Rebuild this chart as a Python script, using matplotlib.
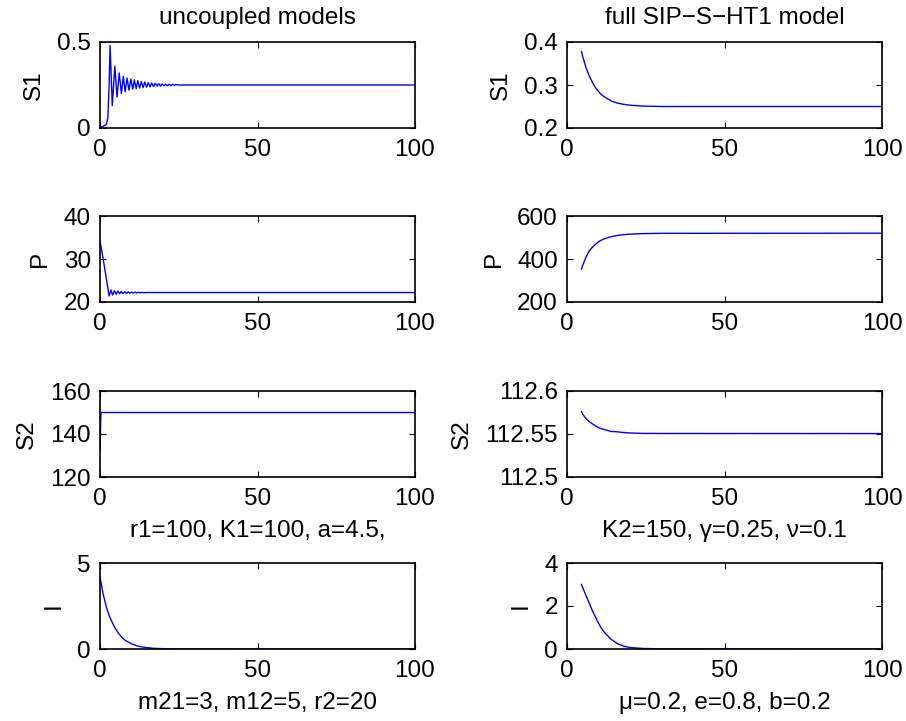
#!/usr/bin/env python3
"""Time courses of the uncoupled models vs. the full SIP-S-HT1 model."""

import matplotlib

matplotlib.use("Agg")
import matplotlib.pyplot as plt


# --- uncoupled models (left column) ---
s1_unc_t = [0, 1.0, 2.0, 2.5, 2.9, 3.2, 3.9, 4.7, 5.4, 6.1, 6.8, 7.4, 8.0, 8.6,
            9.2, 9.8, 10.4, 10.9, 11.5, 12.0, 12.6, 13.1, 13.7, 14.2, 14.8,
            15.3, 15.9, 16.4, 17.0, 17.5, 18.1, 18.6, 19.2, 19.7, 20.3, 20.8,
            21.4, 21.9, 22.5, 23.0, 23.6, 24.1, 25.0, 100]
s1_unc = [0.004, 0.01, 0.02, 0.06, 0.25, 0.48, 0.13, 0.36, 0.18, 0.32, 0.20,
          0.30, 0.21, 0.29, 0.22, 0.285, 0.225, 0.28, 0.228, 0.275, 0.232,
          0.27, 0.235, 0.267, 0.237, 0.264, 0.239, 0.262, 0.241, 0.26, 0.243,
          0.258, 0.244, 0.256, 0.245, 0.255, 0.246, 0.254, 0.247, 0.253,
          0.248, 0.252, 0.25, 0.25]

p_unc_t = [0, 0.5, 1.0, 1.5, 2.0, 2.5, 2.9, 3.45, 4.0, 4.55, 5.1, 5.65, 6.2,
           6.75, 7.3, 7.85, 8.4, 8.95, 9.5, 10.05, 10.6, 11.15, 11.7, 12.25,
           12.8, 13.35, 13.9, 15.0, 100]
p_unc = [34.3, 32.2, 30.0, 27.8, 25.5, 23.2, 21.4, 22.8, 21.6, 22.65, 21.8,
         22.55, 21.9, 22.45, 21.95, 22.4, 22.0, 22.35, 22.05, 22.3, 22.1,
         22.28, 22.12, 22.26, 22.14, 22.24, 22.16, 22.2, 22.2]

s2_unc_t = [0, 0.1, 0.2, 0.3, 0.5, 100]
s2_unc = [132, 138, 145, 149.5, 150, 150]

i_unc_t = [0, 1, 2, 3, 4, 5, 6, 7, 8, 10, 12, 14, 17, 20, 25, 100]
i_unc = [4.2, 3.2, 2.45, 1.9, 1.5, 1.15, 0.88, 0.67, 0.5, 0.3, 0.17, 0.1,
         0.04, 0.02, 0.005, 0.0]

# --- full SIP-S-HT1 model (right column) ---
full_t = [4.6, 5, 6, 7, 8, 9, 10, 11, 12, 14, 16, 18, 20, 24, 30, 100]
s1_full = [0.378, 0.366, 0.341, 0.322, 0.307, 0.294, 0.285, 0.277, 0.272,
           0.263, 0.258, 0.255, 0.253, 0.251, 0.25, 0.25]
p_full = [353, 371, 408, 436, 454, 468, 480, 488.5, 495, 504, 509.5, 513,
          515.5, 518, 519.4, 520]
s2_full = [112.576, 112.573, 112.568, 112.5645, 112.562, 112.5595, 112.5575,
           112.556, 112.555, 112.553, 112.5525, 112.5517, 112.5512,
           112.5507, 112.5506, 112.5505]
i_full = [3.0, 2.85, 2.5, 2.15, 1.8, 1.5, 1.2, 0.95, 0.75, 0.45, 0.25, 0.13,
          0.07, 0.025, 0.008, 0.0]

col_titles = ["uncoupled models", "full SIP\u2212S\u2212HT1 model"]
row_labels = ["S1", "P", "S2", "I"]
x_ticks = [0, 50, 100]
y_ticks_left = [[0, 0.5], [20, 30, 40], [120, 140, 160], [0, 5]]
y_ticks_right = [[0.2, 0.3, 0.4], [200, 400, 600], [112.5, 112.55, 112.6], [0, 2, 4]]
y_tick_text_right = [["0.2", "0.3", "0.4"], ["200", "400", "600"],
                     ["112.5", "112.55", "112.6"], ["0", "2", "4"]]
notes_left = {2: "r1=100, K1=100, a=4.5,", 3: "m21=3, m12=5, r2=20"}
notes_right = {2: "K2=150, \u03b3=0.25, \u03bd=0.1", 3: "\u03bc=0.2, e=0.8, b=0.2"}


def style(ax, yticks, ylabel):
    ax.set_xlim(0, 100)
    ax.set_ylim(yticks[0], yticks[-1])
    ax.set_xticks(x_ticks)
    ax.set_yticks(yticks)
    ax.tick_params(direction="in", length=4, width=0.8, top=True, right=True)
    ax.tick_params(axis="x", pad=8)
    ax.tick_params(axis="y", pad=6.5)
    for spine in ax.spines.values():
        spine.set_linewidth(1.2)
    ax.set_ylabel(ylabel, labelpad=9)


def main() -> None:
    matplotlib.rcParams.update(
        {
            "font.family": ["Liberation Sans", "DejaVu Sans"],
            "font.size": 17.5,
            "axes.labelsize": 17.5,
            "xtick.labelsize": 17.5,
            "ytick.labelsize": 17.5,
            "axes.titlesize": 17.5,
        }
    )
    fig = plt.figure(figsize=(9.06, 7.21), dpi=100)

    left_x, right_x, width = 100 / 906, 567 / 906, 315 / 906
    bottoms_px = [128, 302, 477, 649]
    height = 86 / 721

    left_series = [(s1_unc_t, s1_unc), (p_unc_t, p_unc), (s2_unc_t, s2_unc), (i_unc_t, i_unc)]
    right_series = [s1_full, p_full, s2_full, i_full]

    for row in range(4):
        bottom = 1 - bottoms_px[row] / 721

        ax = fig.add_axes([left_x, bottom, width, height])
        t, y = left_series[row]
        ax.plot(t, y, color="#0000ff", lw=1.0)
        style(ax, y_ticks_left[row], row_labels[row])
        ax.set_yticklabels([f"{v:g}" for v in y_ticks_left[row]])
        if row == 0:
            ax.set_title(col_titles[0], pad=13)
        if row in notes_left:
            ax.set_xlabel(notes_left[row], labelpad=7)

        ax = fig.add_axes([right_x, bottom, width, height])
        ax.plot(full_t, right_series[row], color="#0000ff", lw=1.0)
        style(ax, y_ticks_right[row], row_labels[row])
        ax.set_yticklabels(y_tick_text_right[row])
        if row == 0:
            ax.set_title(col_titles[1], pad=13)
        if row in notes_right:
            ax.set_xlabel(notes_right[row], labelpad=7)

    fig.savefig("out.png", dpi=100)
    plt.close(fig)


if __name__ == "__main__":
    main()
